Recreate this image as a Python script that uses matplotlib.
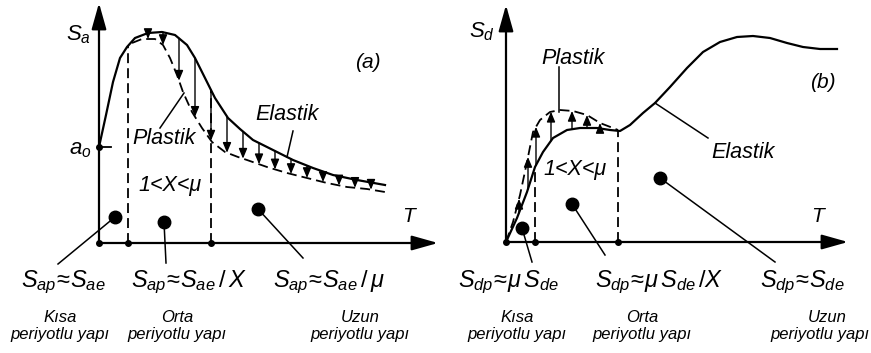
import numpy as np
import matplotlib.pyplot as plt

plt.rcParams['font.family'] = 'Liberation Sans'
plt.rcParams['mathtext.fontset'] = 'custom'
plt.rcParams['mathtext.it'] = 'Liberation Sans:italic'
plt.rcParams['mathtext.rm'] = 'Liberation Sans'

# ---------------- panel (a): acceleration spectrum ----------------
a_origin = (99, 243)
a_x_end, a_y_top = 438, 3
a_ticks = [99, 128, 211]
a_ao = 147

a_el_x = [99, 106, 113, 120, 127, 135, 148, 162, 175, 187, 195, 205, 215, 228,
          240, 253, 273, 293, 313, 333, 357, 385]
a_el_y = [147, 115, 82, 58, 47, 38, 33, 32, 35, 45, 58, 78, 98, 118,
          129, 140, 150, 160, 168, 175, 180, 185]
a_pl_x = [132, 142, 155, 163, 170, 177, 183, 192, 202, 212, 225, 238, 247, 267,
          287, 307, 327, 347, 367, 385]
a_pl_y = [43, 39, 39, 45, 58, 75, 92, 112, 128, 142, 152, 157, 160, 167,
          173, 178, 183, 187, 189, 192]
a_arrow_x = [148, 163, 179, 195, 211, 227, 243, 259, 275, 291, 307, 323, 339, 355, 371]

# ---------------- panel (b): displacement spectrum ----------------
b_origin = (506, 242)
b_x_end, b_y_top = 848, 5
b_ticks = [506, 535, 618]

b_el_x = [506, 517, 527, 535, 543, 553, 567, 580, 597, 610, 620, 630, 643, 655,
          670, 687, 703, 720, 737, 753, 770, 787, 803, 820, 837]
b_el_y = [242, 218, 192, 167, 152, 138, 130, 128, 128, 130, 131, 125, 113, 103,
          87, 68, 52, 42, 37, 36, 38, 43, 47, 49, 49]
b_pl_x = [506, 513, 520, 527, 533, 540, 550, 560, 573, 587, 600, 613, 618]
b_pl_y = [242, 222, 195, 162, 132, 120, 112, 110, 111, 115, 123, 128, 130]
b_arrow_x = [519, 528, 536, 551, 572, 587, 600]

# labels
a_bottom = [r'$S_{ap}\!\approx\!S_{ae}$', r'$S_{ap}\!\approx\!S_{ae}\,/\,X$',
            r'$S_{ap}\!\approx\!S_{ae}\,/\,\mu$']
b_bottom = [r'$S_{dp}\!\approx\!\mu\,S_{de}$', r'$S_{dp}\!\approx\!\mu\,S_{de}\,/X$',
            r'$S_{dp}\!\approx\!S_{de}$']
period_names = ['Kısa', 'Orta', 'Uzun']
period_sub = 'periyotlu yapı'

fig = plt.figure(figsize=(8.71, 3.53), dpi=100)
ax = fig.add_axes([0, 0, 1, 1])
ax.set_xlim(0, 871)
ax.set_ylim(353, 0)
ax.axis('off')

big_head = dict(arrowstyle='-|>,head_length=1.6,head_width=0.45', lw=1.6,
                color='k', mutation_scale=10, shrinkA=0, shrinkB=0)
small_head = dict(arrowstyle='-|>,head_length=0.6,head_width=0.25', lw=1.0,
                  color='k', mutation_scale=10, shrinkA=0, shrinkB=0)
dash = (0, (5.5, 2.8))


def draw_axes(origin, x_end, y_top, ticks):
    x0, y0 = origin
    ax.annotate('', xy=(x_end, y0), xytext=(x0, y0), arrowprops=big_head)
    ax.annotate('', xy=(x0, y_top), xytext=(x0, y0), arrowprops=big_head)
    ax.plot(ticks, [y0] * len(ticks), 'o', ms=4, color='k', zorder=5)


def draw_marker(dot, end):
    ax.plot([dot[0], end[0]], [dot[1], end[1]], lw=1.1, color='k')
    ax.plot(dot[0], dot[1], 'o', ms=9, color='k', zorder=5)


def arrows(xs, el_x, el_y, pl_x, pl_y):
    for x in xs:
        y_from = np.interp(x, el_x, el_y)
        y_to = np.interp(x, pl_x, pl_y)
        ax.annotate('', xy=(x, y_to), xytext=(x, y_from), arrowprops=small_head)


italic = dict(style='italic', ha='center', va='center')

# ----- panel (a)
draw_axes(a_origin, a_x_end, a_y_top, a_ticks)
ax.plot(a_el_x, a_el_y, color='k', lw=1.6)
ax.plot(a_pl_x, a_pl_y, color='k', lw=1.3, ls=dash)
for x in a_ticks[1:]:
    ax.plot([x, x], [a_origin[1], np.interp(x, a_el_x, a_el_y)], color='k', lw=1.3, ls=dash)
arrows(a_arrow_x, a_el_x, a_el_y, a_pl_x, a_pl_y)
ax.plot([a_origin[0], a_origin[0] + 12], [a_ao, a_ao], color='k', lw=1.3)
ax.plot(a_origin[0], a_ao, 'o', ms=4, color='k')
ax.text(80, 149, r'$a_o$', fontsize=16, ha='center', va='center')
ax.text(78, 35, r'$S_a$', fontsize=16, ha='center', va='center')
ax.text(368, 63, '(a)', fontsize=15, **italic)
ax.text(287, 114, 'Elastik', fontsize=15.5, **italic)
ax.plot([293, 287], [131, 157], color='k', lw=1.1)
ax.text(164, 139, 'Plastik', fontsize=15.5, **italic)
ax.plot([160, 184], [128, 93], color='k', lw=1.1)
ax.text(170, 185, '1<X<μ', fontsize=15.5, **italic)
ax.text(408, 217, 'T', fontsize=15, **italic)
draw_marker((115, 217), (58, 264))
draw_marker((164, 222), (166, 263))
draw_marker((258, 209), (303, 258))
for s, x in zip(a_bottom, [63, 189, 329]):
    ax.text(x, 282, s, fontsize=17, ha='center', va='center')
for s, x in zip(period_names, [60, 177, 360]):
    ax.text(x, 317, s, fontsize=12, **italic)
    ax.text(x, 335, period_sub, fontsize=12, **italic)

# ----- panel (b)
draw_axes(b_origin, b_x_end, b_y_top, b_ticks)
ax.plot(b_el_x, b_el_y, color='k', lw=1.6)
ax.plot(b_pl_x, b_pl_y, color='k', lw=1.3, ls=dash)
for x in b_ticks[1:]:
    ax.plot([x, x], [b_origin[1], np.interp(x, b_el_x, b_el_y)], color='k', lw=1.3, ls=dash)
arrows(b_arrow_x, b_el_x, b_el_y, b_pl_x, b_pl_y)
ax.text(482, 32, r'$S_d$', fontsize=16, ha='center', va='center')
ax.text(823, 83, '(b)', fontsize=15, **italic)
ax.text(573, 58, 'Plastik', fontsize=15.5, **italic)
ax.plot([559, 559], [67, 112], color='k', lw=1.1)
ax.text(743, 153, 'Elastik', fontsize=15.5, **italic)
ax.plot([655, 708], [103, 138], color='k', lw=1.1)
ax.text(575, 170, '1<X<μ', fontsize=15.5, **italic)
ax.text(817, 217, 'T', fontsize=15, **italic)
draw_marker((522, 228), (532, 262))
draw_marker((572, 204), (605, 255))
draw_marker((660, 178), (775, 262))
for s, x in zip(b_bottom, [508, 659, 802]):
    ax.text(x, 282, s, fontsize=17, ha='center', va='center')
for s, x1, x2 in zip(period_names, [517, 642, 827], [517, 642, 820]):
    ax.text(x1, 317, s, fontsize=12, **italic)
    ax.text(x2, 335, period_sub, fontsize=12, **italic)

fig.savefig('out.png', dpi=100)
